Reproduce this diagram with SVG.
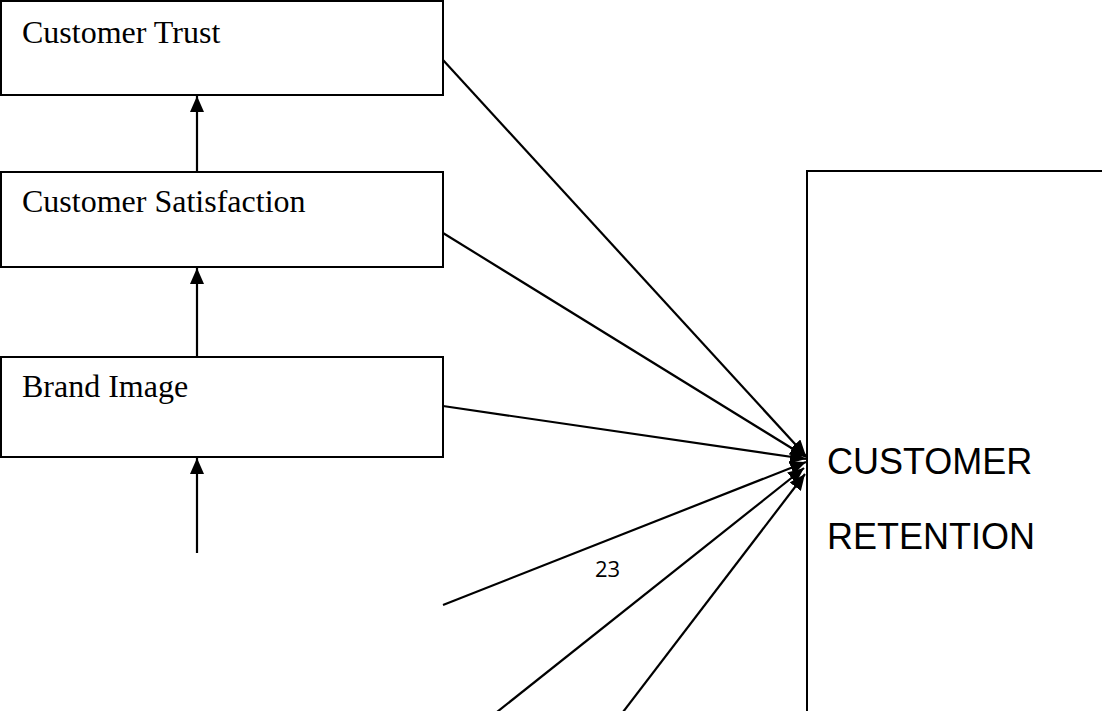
<svg xmlns="http://www.w3.org/2000/svg" width="1102" height="711" viewBox="0 0 1102 711">
<style>
.box{fill:#fff;stroke:#000;stroke-width:2}
.lbl{font-family:"Liberation Serif","Times New Roman",serif;font-size:32px;fill:#000}
.big{font-family:"Liberation Sans",Arial,sans-serif;font-size:36px;fill:#000}
.con{stroke:#000;stroke-width:2.2;fill:none}
</style>
<defs>
<marker id="ah" markerUnits="userSpaceOnUse" markerWidth="16" markerHeight="14" refX="16" refY="7" orient="auto">
<path d="M0,0 L16,7 L0,14 Z" fill="#000"/>
</marker>
</defs>
<rect width="1102" height="711" fill="#fff"/>
<g id="customer-retention">
<path d="M1104,171 L807,171 L807,713" class="box" fill="none"/>
<text class="big" x="827" y="474">CUSTOMER</text>
<text class="big" x="827" y="549">RETENTION</text>
</g>
<g id="customer-trust">
<rect class="box" x="1" y="1" width="442" height="94"/>
<text class="lbl" x="22" y="43">Customer Trust</text>
</g>
<g id="customer-satisfaction">
<rect class="box" x="1" y="172" width="442" height="95"/>
<text class="lbl" x="22" y="212">Customer Satisfaction</text>
</g>
<g id="brand-image">
<rect class="box" x="1" y="357" width="442" height="100"/>
<text class="lbl" x="22" y="397">Brand Image</text>
</g>
<g id="page-number">
<text x="595" y="577" font-family="'Open Sans','Liberation Sans',sans-serif" font-size="22">23</text>
</g>
<g id="connectors">
<line class="con" x1="197" y1="171" x2="197" y2="96" marker-end="url(#ah)"/>
<line class="con" x1="197" y1="357" x2="197" y2="268" marker-end="url(#ah)"/>
<line class="con" x1="197" y1="553" x2="197" y2="458" marker-end="url(#ah)"/>
<line class="con" x1="443" y1="60" x2="806" y2="456" marker-end="url(#ah)"/>
<line class="con" x1="443" y1="233" x2="806" y2="457" marker-end="url(#ah)"/>
<line class="con" x1="443" y1="406" x2="806" y2="459" marker-end="url(#ah)"/>
<line class="con" x1="443" y1="605" x2="806" y2="462" marker-end="url(#ah)"/>
<line class="con" x1="497" y1="712" x2="804" y2="468" marker-end="url(#ah)"/>
<line class="con" x1="623" y1="712" x2="805" y2="474" marker-end="url(#ah)"/>
</g>
</svg>
